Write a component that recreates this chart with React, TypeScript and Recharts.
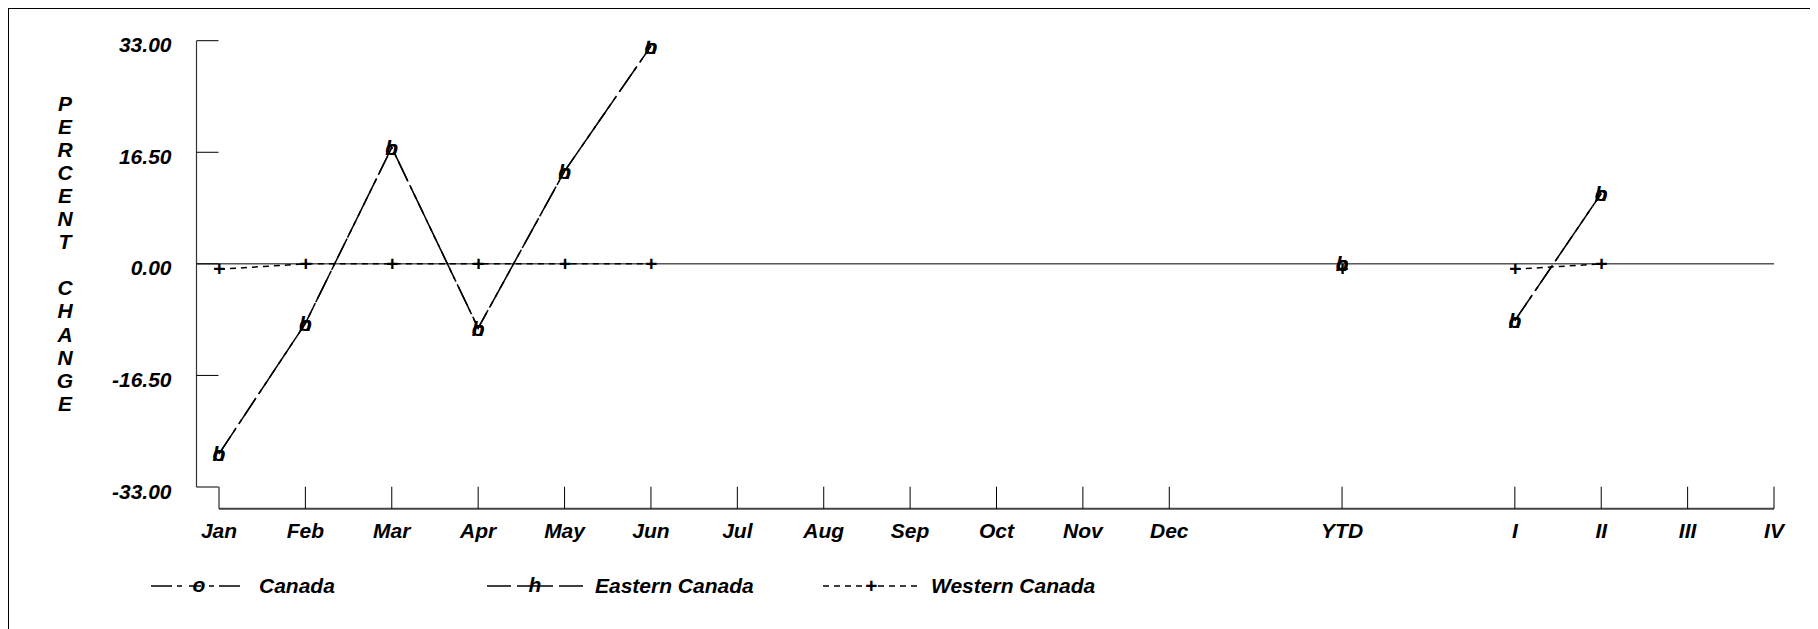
import { Legend, Line, LineChart, ReferenceLine, XAxis, YAxis } from "recharts"

const FONT = "'Liberation Sans', Arial, Helvetica, sans-serif"
const INK = "#000"

// x slots: the blank entries are the gaps before YTD and before the quarters
const categories = ["Jan", "Feb", "Mar", "Apr", "May", "Jun", "Jul", "Aug", "Sep", "Oct", "Nov", "Dec", "", "YTD", "", "I", "II", "III", "IV"]
const canadaValues = [-28.1, -8.8, 17.2, -9.5, 13.7, 32.2, null, null, null, null, null, null, null, 0.1, null, -8.4, 10.4, null, null]
const easternValues = [-28.1, -8.8, 17.2, -9.5, 13.7, 32.2, null, null, null, null, null, null, null, 0.1, null, -8.4, 10.4, null, null]
const westernValues = [-0.8, 0, 0, 0, 0, 0, null, null, null, null, null, null, null, -0.7, null, -0.8, 0, null, null]
const yTicks = [-33, -16.5, 0, 16.5, 33]
const yDomain: [number, number] = [-33, 33]
const axisTitle = "PERCENT CHANGE"

const series = [
	{ key: "canada", name: "Canada", symbol: "o", dash: "21 5 5 5 5 5", legendDash: "21 5 5 7 12 8 5 5 21" },
	{ key: "eastern", name: "Eastern Canada", symbol: "h", dash: "30 6", legendDash: "24 6 36 6 24" },
	{ key: "western", name: "Western Canada", symbol: "+", dash: "6 5", legendDash: "6 5" },
]

const data = categories.map((label, i) => ({
	label,
	canada: canadaValues[i],
	eastern: easternValues[i],
	western: westernValues[i],
}))

// layout (svg px)
const CHART_W = 1803
const CHART_H = 620
const PLOT_TOP = 31.7
const Y_AXIS_W = 187.5
const PLOT_RIGHT = 1765
const X_AXIS_Y = 499.7
const X_AXIS_H = 40
const X_PAD_LEFT = 22.5
const Y_PAD_BOTTOM = 21.7
const TICK_LEN = 22
const FONT_SIZE = 21

const textStyle = { fontFamily: FONT, fontSize: FONT_SIZE, fontWeight: 700, fontStyle: "italic" as const, fill: INK }

function glyphOffset(symbol: string) {
	return symbol === "+" ? 7 : 7.5
}

function YTick(props: any) {
	const { x, y, payload } = props
	return (
		<g>
			<line x1={x} x2={x + TICK_LEN} y1={y} y2={y} stroke={INK} strokeWidth={1} />
			<text x={x - 25} y={y + 11.6} textAnchor="end" style={textStyle}>
				{Number(payload.value).toFixed(2)}
			</text>
		</g>
	)
}

function XTick(props: any) {
	const { x, y, payload } = props
	if (!payload.value) return <g />
	return (
		<g>
			<line x1={x} x2={x} y1={y} y2={y - TICK_LEN} stroke={INK} strokeWidth={1} />
			<text x={x} y={y + 29.6} textAnchor="middle" style={textStyle}>
				{payload.value}
			</text>
		</g>
	)
}

function AxisTitle(props: any) {
	const vb = props.viewBox ?? { x: 0, y: PLOT_TOP }
	const cx = vb.x + 56
	const top = 101.5
	return (
		<g>
			{axisTitle.split("").map((ch, i) =>
				ch === " " ? null : (
					<text key={i} x={cx} y={top + i * 23.1} textAnchor="middle" style={textStyle}>
						{ch}
					</text>
				),
			)}
		</g>
	)
}

function makeDot(symbol: string) {
	return (props: any) => {
		const { cx, cy, index, value } = props
		if (value == null || cy == null || Number.isNaN(cy)) return <g key={`d-${index}`} />
		return (
			<text key={`d-${index}`} x={cx} y={cy + glyphOffset(symbol)} textAnchor="middle" style={textStyle}>
				{symbol}
			</text>
		)
	}
}

function LegendContent() {
	const x0 = 142
	const pitch = 336
	const sample = 96
	const ly = 20
	return (
		<svg width={CHART_W} height={40} style={{ display: "block" }}>
			{series.map((s, i) => {
				const left = x0 + i * pitch
				return (
					<g key={s.key}>
						<line
							x1={left}
							x2={left + sample}
							y1={ly}
							y2={ly}
							stroke={INK}
							strokeWidth={1.5}
							strokeDasharray={s.legendDash}
						/>
						<text x={left + sample / 2} y={ly + (s.symbol === "+" ? 7 : 6)} textAnchor="middle" style={textStyle}>
							{s.symbol}
						</text>
						<text x={left + sample + 12} y={ly + 6.5} style={textStyle}>
							{s.name}
						</text>
					</g>
				)
			})}
		</svg>
	)
}

export default function App() {
	const plotH = X_AXIS_Y - PLOT_TOP
	return (
		<div style={{ width: CHART_W, height: CHART_H, border: "1px solid #000", background: "#fff" }}>
			<LineChart
				width={CHART_W}
				height={CHART_H}
				data={data}
				margin={{ top: PLOT_TOP, right: CHART_W - PLOT_RIGHT, left: 0, bottom: CHART_H - X_AXIS_Y - X_AXIS_H }}
			>
				<XAxis
					dataKey="label"
					interval={0}
					height={X_AXIS_H}
					padding={{ left: X_PAD_LEFT, right: 0 }}
					tickSize={0}
					tickMargin={0}
					tickLine={false}
					tick={<XTick />}
					axisLine={{ stroke: "#444", strokeWidth: 2, strokeDasharray: `0 ${X_PAD_LEFT} 4000` }}
				/>
				<YAxis
					type="number"
					domain={yDomain}
					ticks={yTicks}
					allowDataOverflow
					width={Y_AXIS_W}
					padding={{ top: 0, bottom: Y_PAD_BOTTOM }}
					tickSize={0}
					tickMargin={0}
					tickLine={false}
					tick={<YTick />}
					axisLine={{ stroke: "#333", strokeWidth: 1.2, strokeDasharray: `${plotH - Y_PAD_BOTTOM} 4000` }}
					label={<AxisTitle />}
				/>
				<ReferenceLine y={0} stroke={INK} strokeWidth={1} />
				<Legend
					verticalAlign="middle"
					layout="horizontal"
					content={<LegendContent />}
					wrapperStyle={{ position: "absolute", left: 0, top: 556.7, width: CHART_W, height: 40 }}
				/>
				{series.map((s) => (
					<Line
						key={s.key}
						type="linear"
						dataKey={s.key}
						name={s.name}
						stroke={INK}
						strokeWidth={1.5}
						strokeDasharray={s.dash}
						dot={makeDot(s.symbol)}
						activeDot={false}
						connectNulls={false}
						isAnimationActive={false}
					/>
				))}
			</LineChart>
		</div>
	)
}
